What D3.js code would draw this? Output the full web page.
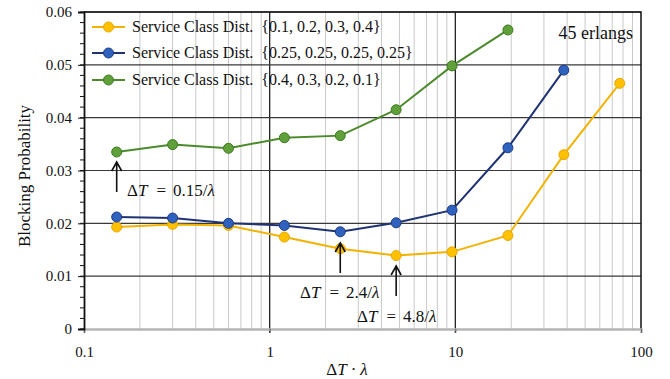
<!DOCTYPE html>
<html>
<head>
<meta charset="utf-8">
<script src="https://cdn.jsdelivr.net/npm/d3@7/dist/d3.min.js"></script>
<style>
  html, body { margin: 0; padding: 0; background: #fff; }
  svg { display: block; }
</style>
</head>
<body>
<svg id="chart" width="670" height="379"></svg>
<script>
// Normalized update interval ΔT·λ
const intervals = [0.15, 0.3, 0.6, 1.2, 2.4, 4.8, 9.6, 19.2, 38.4, 76.8];

// Blocking probability per service class distribution
const distA = [0.0193, 0.0198, 0.0196, 0.0174, 0.0152, 0.0139, 0.0146, 0.0177, 0.0330, 0.0465];
const distB = [0.0212, 0.0210, 0.0200, 0.0196, 0.0184, 0.0201, 0.0225, 0.0343, 0.0490];
const distC = [0.0335, 0.0349, 0.0342, 0.0362, 0.0366, 0.0415, 0.0498, 0.0566];

const seriesNames = [
  "Service Class Dist.  {0.1, 0.2, 0.3, 0.4}",
  "Service Class Dist.  {0.25, 0.25, 0.25, 0.25}",
  "Service Class Dist.  {0.4, 0.3, 0.2, 0.1}"
];

const xTicks = [0.1, 1, 10, 100];
const yTicks = [0, 0.01, 0.02, 0.03, 0.04, 0.05, 0.06];

const FONT = "Liberation Serif, Times New Roman, serif";
const svg = d3.select("#chart");
const plotL = 84, plotR = 641, plotT = 12, plotB = 329;

const x = d3.scaleLog().domain([0.1, 100]).range([plotL, plotR]);
const y = d3.scaleLinear().domain([0, 0.06]).range([plotB, plotT]);

const styles = [
  { line: "#F2B300", fill: "#FFC000", stroke: "#E3A900" },
  { line: "#1F3372", fill: "#2F62BE", stroke: "#1F3A80" },
  { line: "#4C8A2C", fill: "#5FA03A", stroke: "#3F7A24" }
];

// minor vertical grid
const minor = [];
for (const dec of [0.1, 1, 10]) for (let k = 2; k <= 9; k++) minor.push(dec * k);
svg.append("g").selectAll("line").data(minor).join("line")
  .attr("x1", d => x(d)).attr("x2", d => x(d))
  .attr("y1", plotT).attr("y2", plotB)
  .attr("stroke", "#c9c9c9").attr("stroke-width", 1);

// major vertical grid
svg.append("g").selectAll("line").data([1, 10]).join("line")
  .attr("x1", d => x(d)).attr("x2", d => x(d))
  .attr("y1", plotT).attr("y2", plotB + 4)
  .attr("stroke", "#222").attr("stroke-width", 1.3);

// horizontal grid
svg.append("g").selectAll("line").data(yTicks.slice(1)).join("line")
  .attr("x1", plotL).attr("x2", plotR)
  .attr("y1", d => y(d)).attr("y2", d => y(d))
  .attr("stroke", "#3a3a3a").attr("stroke-width", 1.2);

// plot frame: top and right
svg.append("path")
  .attr("d", `M${plotL},${plotT}H${plotR}V${plotB}`)
  .attr("fill", "none").attr("stroke", "#111").attr("stroke-width", 1.5);

// x axis
const xAxis = svg.append("g").attr("transform", `translate(0,${plotB})`)
  .call(d3.axisBottom(x).tickValues(xTicks).tickFormat(d3.format("")).tickSize(4).tickPadding(13));
xAxis.attr("font-family", FONT);
xAxis.select(".domain").attr("stroke", "#b5b5b5").attr("stroke-width", 2.4);
xAxis.selectAll(".tick line").attr("stroke", "#666");
xAxis.selectAll("text").attr("font-size", 15).attr("fill", "#111").attr("font-family", FONT);

// y axis with minor ticks
const yMinor = d3.range(0, 0.0601, 0.002);
svg.append("g").selectAll("line").data(yMinor).join("line")
  .attr("x1", plotL - 4).attr("x2", plotL)
  .attr("y1", d => y(d)).attr("y2", d => y(d))
  .attr("stroke", "#111").attr("stroke-width", 1);
const yAxis = svg.append("g").attr("transform", `translate(${plotL},0)`)
  .call(d3.axisLeft(y).tickValues(yTicks).tickFormat(d => d === 0 ? "0" : d3.format(".2f")(d)).tickSize(6).tickPadding(6));
yAxis.attr("font-family", FONT);
yAxis.select(".domain").attr("stroke", "#111").attr("stroke-width", 1.8);
yAxis.selectAll(".tick line").attr("stroke", "#111");
yAxis.selectAll("text").attr("font-size", 15).attr("fill", "#111").attr("font-family", FONT);

// series
const allSeries = [distA, distB, distC];
const lineGen = d3.line().x(d => x(d[0])).y(d => y(d[1]));
allSeries.forEach((vals, i) => {
  const pts = vals.map((v, j) => [intervals[j], v]);
  const g = svg.append("g");
  g.append("path").datum(pts).attr("d", lineGen)
    .attr("fill", "none").attr("stroke", styles[i].line).attr("stroke-width", 2);
  g.selectAll("circle").data(pts).join("circle")
    .attr("cx", d => x(d[0])).attr("cy", d => y(d[1])).attr("r", 5)
    .attr("fill", styles[i].fill).attr("stroke", styles[i].stroke).attr("stroke-width", 1);
});

// legend
const legendRows = [27, 53, 80];
seriesNames.forEach((name, i) => {
  const g = svg.append("g");
  g.append("line").attr("x1", 92).attr("x2", 125).attr("y1", legendRows[i]).attr("y2", legendRows[i])
    .attr("stroke", styles[i].line).attr("stroke-width", 2);
  g.append("circle").attr("cx", 108.5).attr("cy", legendRows[i]).attr("r", 5)
    .attr("fill", styles[i].fill).attr("stroke", styles[i].stroke);
  g.append("text").attr("x", 132).attr("y", legendRows[i] + 5)
    .attr("font-family", FONT).attr("font-size", 16).attr("fill", "#111")
    .style("white-space", "pre").text(name);
});

svg.append("text").attr("x", 633).attr("y", 39).attr("text-anchor", "end")
  .attr("font-family", FONT).attr("font-size", 18).attr("fill", "#111").text("45 erlangs");

// annotations: arrow pointing at a marker plus its ΔT label
const notes = [
  { at: 0.15, tip: 162, tail: 192, tx: 127, ty: 196, val: "0.15" },
  { at: 2.4, tip: 243, tail: 273, tx: 300, ty: 298, val: "2.4" },
  { at: 4.8, tip: 266, tail: 296, tx: 357, ty: 322, val: "4.8" }
];
notes.forEach(n => {
  const ax = x(n.at);
  svg.append("path")
    .attr("d", `M${ax},${n.tail}V${n.tip}M${ax - 5},${n.tip + 9}L${ax},${n.tip}L${ax + 5},${n.tip + 9}`)
    .attr("fill", "none").attr("stroke", "#111").attr("stroke-width", 1.6);
  const t = svg.append("text").attr("x", n.tx).attr("y", n.ty)
    .attr("font-family", FONT).attr("font-size", 17).attr("fill", "#111");
  t.append("tspan").text("Δ");
  t.append("tspan").attr("font-style", "italic").text("T");
  t.append("tspan").attr("dx", 9).text("=");
  t.append("tspan").attr("dx", 7).text(`${n.val}/`);
  t.append("tspan").attr("font-style", "italic").text("λ");
});

// axis titles
const xt = svg.append("text").attr("x", 347).attr("y", 375).attr("text-anchor", "middle")
  .attr("font-family", FONT).attr("font-size", 17).attr("fill", "#111");
xt.append("tspan").text("Δ");
xt.append("tspan").attr("font-style", "italic").text("T");
xt.append("tspan").attr("dx", 4).text("·");
xt.append("tspan").attr("dx", 4).attr("font-style", "italic").text("λ");

svg.append("text").attr("transform", "translate(30,176) rotate(-90)").attr("text-anchor", "middle")
  .attr("font-family", FONT).attr("font-size", 17).attr("fill", "#111").text("Blocking Probability");
</script>
</body>
</html>
